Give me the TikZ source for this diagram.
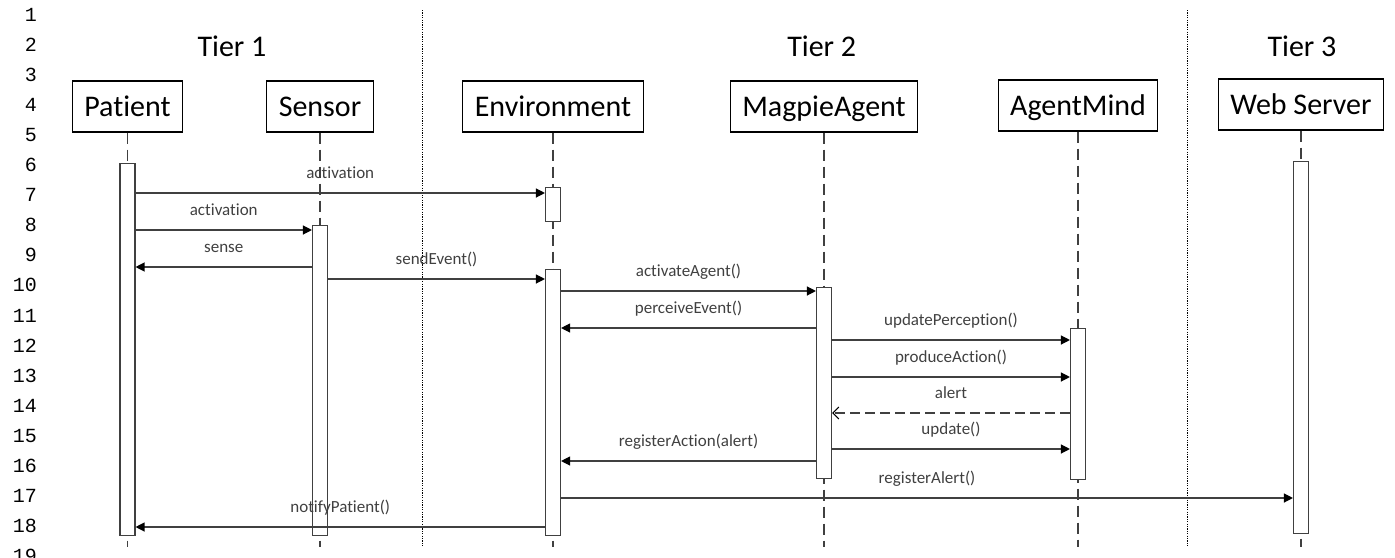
\documentclass[tikz,border=0pt]{standalone}
\usepackage{fontspec}
\setmainfont{Carlito}[Ligatures={NoCommon,NoRequired,NoContextual}]
\newfontfamily\numfont{Liberation Mono}
\usetikzlibrary{arrows.meta,positioning}

\tikzset{
  lifebox/.style={draw, line width=1.1pt, minimum height=51pt, inner xsep=12pt,
    text height=22pt, text depth=3pt, font=\fontsize{30}{36}\selectfont},
  actbar/.style={draw=black!75, fill=white, line width=1.1pt, minimum width=15pt,
    inner sep=0pt, anchor=north},
  lifeline/.style={black!75, line width=1.2pt, dash pattern=on 11pt off 6pt},
  msg/.style={black!75, line width=1.2pt, -{Triangle[length=9pt,width=9pt,black]}},
  reply/.style={black!75, line width=1.1pt, dash pattern=on 10pt off 5pt,
    -{Straight Barb[length=6pt,width=12pt,black]}},
  msglabel/.style={font=\fontsize{17}{20}\selectfont, anchor=base, yshift=14.5pt},
  tierlabel/.style={font=\fontsize{30}{36}\selectfont, anchor=base},
  linenum/.style={font=\numfont\fontsize{20}{24}\selectfont, anchor=base east, inner sep=0pt},
  tierdiv/.style={line width=1pt, dash pattern=on 1.2pt off 1.2pt},
}

\begin{document}
\begin{tikzpicture}[x=1pt, y=-1pt]

\useasboundingbox (0,0) rectangle (1395,557);

% line numbers
\foreach \n in {1,...,19}
  \node[linenum] (ln\n) at (37,{21+30.1*(\n-1)}) {\n};

% tiers
\node[tierlabel] (tier1) at (232,56.7) {Tier 1};
\node[tierlabel] (tier2) at (821.7,56.7) {Tier 2};
\node[tierlabel] (tier3) at (1302,56.7) {Tier 3};
\draw[tierdiv] (422,10) -- (422,547);
\draw[tierdiv] (1187,10) -- (1187,547);

% objects
\node[lifebox] (patient) at (127.5,106.5) {Patient};
\node[lifebox] (sensor)  at (320,106.5)   {Sensor};
\node[lifebox] (env)     at (553,106.5)   {Environment};
\node[lifebox] (magpie)  at (824,106.5)   {MagpieAgent};
\node[lifebox] (mind)    at (1078,105.5)  {AgentMind};
\node[lifebox] (web)     at (1301,104.5)  {Web Server};

\coordinate (bottom) at (0,547);
\foreach \obj in {patient,sensor,env,magpie,mind,web}
  \draw[lifeline] (\obj.south) -- (\obj.south |- bottom);

% activation bars
\node[actbar, minimum height=372pt] (patbar)  at (patient.south |- 0,163) {};
\node[actbar, minimum height=310pt] (senbar)  at (sensor.south |- 0,225) {};
\node[actbar, minimum height=34pt]  (envbarA) at (env.south |- 0,187) {};
\node[actbar, minimum height=266pt] (envbarB) at (env.south |- 0,269) {};
\node[actbar, minimum height=191pt] (magbar)  at (magpie.south |- 0,287) {};
\node[actbar, minimum height=151pt] (mindbar) at (mind.south |- 0,328) {};
\node[actbar, minimum height=372pt] (webbar)  at (web.south |- 0,161) {};

% message rows
\coordinate (m1) at (0,193);
\coordinate (m2) at (0,230);
\coordinate (m3) at (0,267);
\coordinate (m4) at (0,279);
\coordinate (m5) at (0,291);
\coordinate (m6) at (0,328);
\coordinate (m7) at (0,340);
\coordinate (m8) at (0,377);
\coordinate (m9) at (0,413);
\coordinate (m10) at (0,449);
\coordinate (m11) at (0,461);
\coordinate (m12) at (0,498);
\coordinate (m13) at (0,527);

\draw[msg] (patbar.east |- m1) -- (envbarA.west |- m1) node[msglabel, midway] {activation};
\draw[msg] (patbar.east |- m2) -- (senbar.west |- m2) node[msglabel, midway] {activation};
\draw[msg] (senbar.west |- m3) -- (patbar.east |- m3) node[msglabel, midway] {sense};
\draw[msg] (senbar.east |- m4) -- (envbarB.west |- m4) node[msglabel, midway] {sendEvent()};
\draw[msg] (envbarB.east |- m5) -- (magbar.west |- m5) node[msglabel, midway] {activateAgent()};
\draw[msg] (magbar.west |- m6) -- (envbarB.east |- m6) node[msglabel, midway] {perceiveEvent()};
\draw[msg] (magbar.east |- m7) -- (mindbar.west |- m7) node[msglabel, midway] {updatePerception()};
\draw[msg] (magbar.east |- m8) -- (mindbar.west |- m8) node[msglabel, midway] {produceAction()};
\draw[reply] (mindbar.west |- m9) -- (magbar.east |- m9) node[msglabel, midway] {alert};
\draw[msg] (magbar.east |- m10) -- (mindbar.west |- m10) node[msglabel, midway] {update()};
\draw[msg] (magbar.west |- m11) -- (envbarB.east |- m11) node[msglabel, midway] {registerAction(alert)};
\draw[msg] (envbarB.east |- m12) -- (webbar.west |- m12) node[msglabel, midway] {registerAlert()};
\draw[msg] (envbarB.west |- m13) -- (patbar.east |- m13) node[msglabel, midway] {notifyPatient()};

\end{tikzpicture}
\end{document}
